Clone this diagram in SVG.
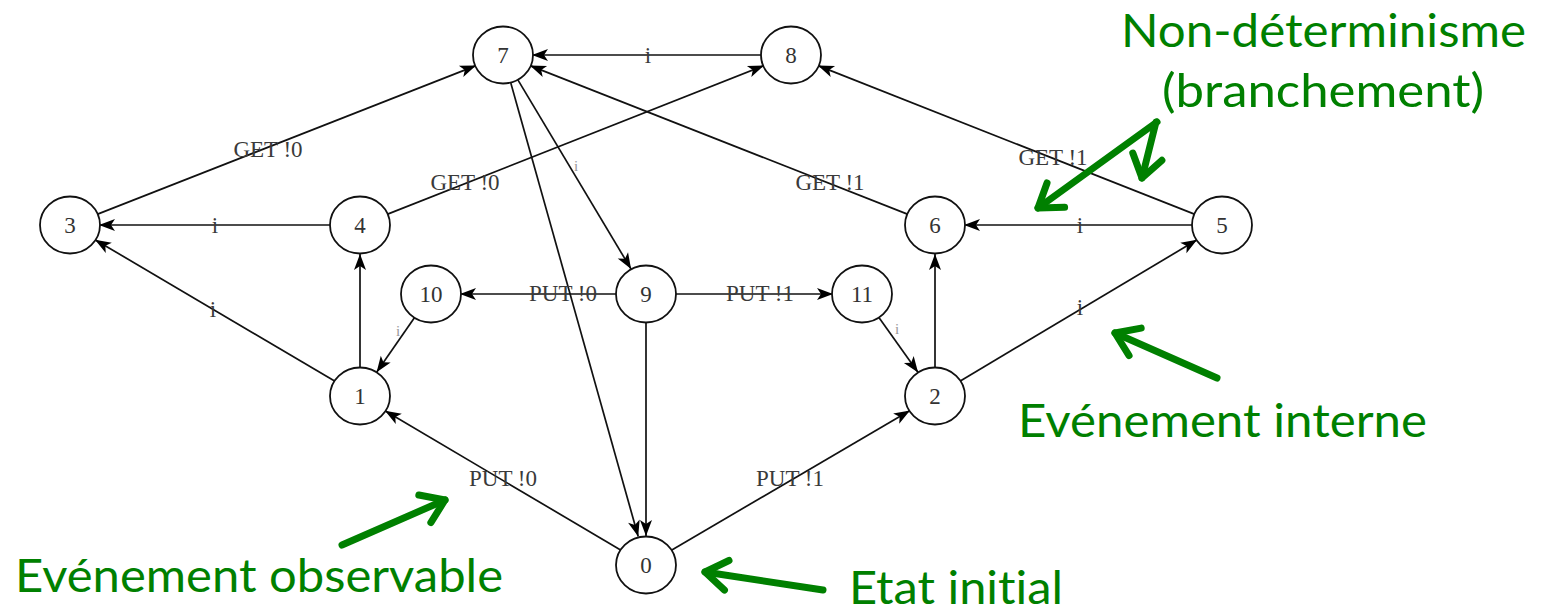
<svg xmlns="http://www.w3.org/2000/svg" width="1545" height="614" viewBox="0 0 1545 614">
  <defs>
    <marker id="head" markerUnits="userSpaceOnUse" markerWidth="20" markerHeight="14" refX="16" refY="6" orient="auto" overflow="visible">
      <path d="M0,0 L16,6 L0,12 L4,6 z" fill="#000"/>
    </marker>
    <marker id="chev" markerUnits="userSpaceOnUse" markerWidth="40" markerHeight="40" refX="0" refY="0" orient="auto" overflow="visible">
      <path d="M-22,-15 L0,0 L-22,15" fill="none" stroke="#008000" stroke-width="7" stroke-linecap="round" stroke-linejoin="round"/>
    </marker>
  </defs>
  <style>
    .node ellipse { fill: #fff; stroke: #111; stroke-width: 1.8; }
    .node text { font-family: "Liberation Serif", serif; font-size: 23px; fill: #333; text-anchor: middle; }
    .edges line { stroke: #111; stroke-width: 1.7; marker-end: url(#head); }
    .lbl { font-family: "Liberation Serif", serif; font-size: 23px; fill: #3a3a3a; text-anchor: middle; }
    .lbl.faint { fill: #999; font-size: 15px; }
    .note { font-family: Lato, "Noto Sans", sans-serif; font-size: 46px; fill: #008000; font-variant-ligatures: none; }
    .pointer line { stroke: #008000; stroke-width: 7; stroke-linecap: round; marker-end: url(#chev); }
  </style>
  <rect width="1545" height="614" fill="#fff"/>

  <!-- transitions -->
  <g id="connectors" class="edges">
    <line x1="97" y1="214.4" x2="476" y2="65.6"/>
    <line x1="387" y1="214.4" x2="764" y2="65.6"/>
    <line x1="331" y1="225" x2="99" y2="225"/>
    <line x1="335" y1="381.3" x2="95" y2="239.7"/>
    <line x1="360" y1="367" x2="360" y2="254"/>
    <line x1="414.4" y1="317.8" x2="376.6" y2="372.2"/>
    <line x1="617" y1="294" x2="460" y2="294"/>
    <line x1="675" y1="294" x2="833" y2="294"/>
    <line x1="878.9" y1="317.6" x2="918.1" y2="372.4"/>
    <line x1="935" y1="367" x2="935" y2="254"/>
    <line x1="959.9" y1="381.2" x2="1197.1" y2="239.8"/>
    <line x1="1193" y1="225" x2="964" y2="225"/>
    <line x1="1195" y1="214.4" x2="818" y2="65.6"/>
    <line x1="908" y1="214.4" x2="530" y2="65.6"/>
    <line x1="762" y1="55" x2="532" y2="55"/>
    <line x1="517.9" y1="79.9" x2="631.1" y2="269.1"/>
    <line x1="510.8" y1="82.9" x2="638.2" y2="536.5"/>
    <line x1="646" y1="323" x2="646" y2="536"/>
    <line x1="621" y1="550.2" x2="385" y2="410.8"/>
    <line x1="671" y1="550.4" x2="910" y2="410.6"/>
  </g>

  <!-- transition labels -->
  <g id="edge-labels">
    <text class="lbl" x="268" y="157">GET !0</text>
    <text class="lbl" x="465" y="190">GET !0</text>
    <text class="lbl" x="215" y="233">i</text>
    <text class="lbl" x="213" y="317">i</text>
    <text class="lbl" x="648" y="63">i</text>
    <text class="lbl" x="1080" y="233">i</text>
    <text class="lbl" x="1080" y="315">i</text>
    <text class="lbl faint" x="576" y="171">i</text>
    <text class="lbl faint" x="398" y="336">i</text>
    <text class="lbl faint" x="897" y="334">i</text>
    <text class="lbl" x="563" y="301">PUT !0</text>
    <text class="lbl" x="760" y="301">PUT !1</text>
    <text class="lbl" x="503" y="486">PUT !0</text>
    <text class="lbl" x="790" y="486">PUT !1</text>
    <text class="lbl" x="830" y="190">GET !1</text>
    <text class="lbl" x="1053" y="165">GET !1</text>
  </g>

  <!-- states -->
  <g id="n0" class="node"><ellipse cx="646" cy="565" rx="30" ry="28.5"/><text x="646" y="573">0</text></g>
  <g id="n1" class="node"><ellipse cx="360" cy="396" rx="30" ry="28.5"/><text x="360" y="404">1</text></g>
  <g id="n2" class="node"><ellipse cx="935" cy="396" rx="30" ry="28.5"/><text x="935" y="404">2</text></g>
  <g id="n3" class="node"><ellipse cx="70" cy="225" rx="30" ry="28.5"/><text x="70" y="233">3</text></g>
  <g id="n4" class="node"><ellipse cx="360" cy="225" rx="30" ry="28.5"/><text x="360" y="233">4</text></g>
  <g id="n5" class="node"><ellipse cx="1222" cy="225" rx="30" ry="28.5"/><text x="1222" y="233">5</text></g>
  <g id="n6" class="node"><ellipse cx="935" cy="225" rx="30" ry="28.5"/><text x="935" y="233">6</text></g>
  <g id="n7" class="node"><ellipse cx="503" cy="55" rx="30" ry="28.5"/><text x="503" y="63">7</text></g>
  <g id="n8" class="node"><ellipse cx="791" cy="55" rx="30" ry="28.5"/><text x="791" y="63">8</text></g>
  <g id="n9" class="node"><ellipse cx="646" cy="294" rx="30" ry="28.5"/><text x="646" y="302">9</text></g>
  <g id="n10" class="node"><ellipse cx="431" cy="294" rx="30" ry="28.5"/><text x="431" y="302">10</text></g>
  <g id="n11" class="node"><ellipse cx="862" cy="294" rx="30" ry="28.5"/><text x="862" y="302">11</text></g>

  <!-- annotations -->
  <g id="annotations">
    <g class="pointer">
      <line x1="1157" y1="122" x2="1038" y2="208"/>
      <line x1="1156" y1="122" x2="1142" y2="178"/>
      <line x1="1217" y1="378" x2="1115" y2="333"/>
      <line x1="342" y1="545" x2="445" y2="500"/>
      <line x1="823" y1="590" x2="705" y2="572"/>
    </g>
    <text class="note" x="1121" y="47" textLength="405" lengthAdjust="spacingAndGlyphs">Non-déterminisme</text>
    <text class="note" x="1162" y="107" textLength="322" lengthAdjust="spacingAndGlyphs">(branchement)</text>
    <text class="note" x="1018" y="437" textLength="409" lengthAdjust="spacingAndGlyphs">Evénement interne</text>
    <text class="note" x="15" y="592" textLength="488" lengthAdjust="spacingAndGlyphs">Evénement observable</text>
    <text class="note" x="849" y="604" textLength="214" lengthAdjust="spacingAndGlyphs">Etat initial</text>
  </g>
</svg>
